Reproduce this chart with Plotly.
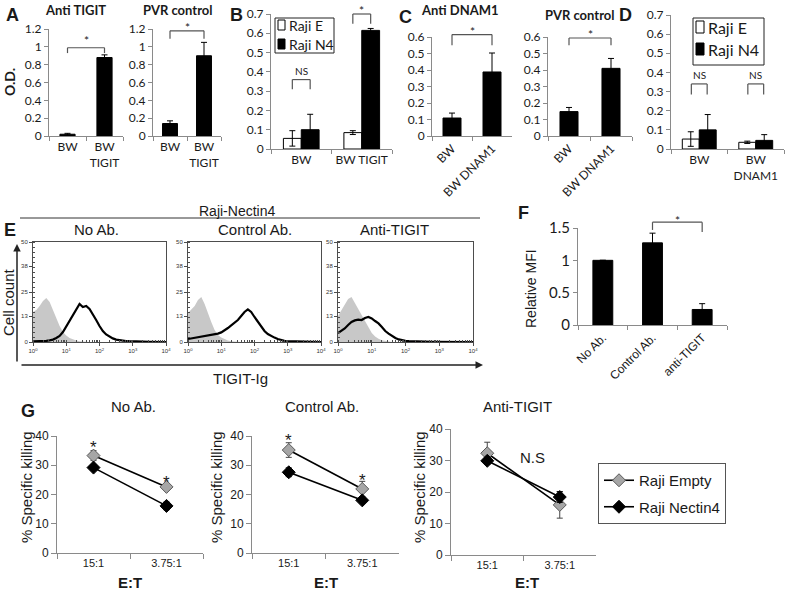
import plotly.graph_objects as go

W, H = 787, 590

# ---------- data ----------
# A  O.D.
a_cats = ["BW", "BW<br>TIGIT"]
a_anti_tigit = [0.02, 0.88]
a_anti_tigit_err = [0.01, 0.03]
a_pvr = [0.14, 0.90]
a_pvr_err = [0.03, 0.15]

# B
b_cats = ["BW", "BW TIGIT"]
b_raji_e = [0.055, 0.085]
b_raji_e_err = [0.04, 0.01]
b_raji_n4 = [0.10, 0.615]
b_raji_n4_err = [0.08, 0.01]

# C
c_cats = ["BW", "BW DNAM1"]
c_anti_dnam1 = [0.109, 0.388]
c_anti_dnam1_err = [0.03, 0.115]
c_pvr = [0.148, 0.41]
c_pvr_err = [0.025, 0.06]

# D
d_cats = ["BW", "BW<br>DNAM1"]
d_raji_e = [0.052, 0.035]
d_raji_e_err = [0.038, 0.006]
d_raji_n4 = [0.10, 0.045]
d_raji_n4_err = [0.08, 0.03]

# E  histograms, x in decades of TIGIT-Ig intensity, y = cell count
hist_decades = [0.0, 0.1, 0.2, 0.3, 0.4, 0.5, 0.6, 0.7, 0.8, 0.9, 1.0, 1.1, 1.2,
                1.3, 1.4, 1.5, 1.6, 1.7, 1.8, 1.9, 2.0, 2.1, 2.2, 2.3, 2.4, 2.5,
                2.6, 2.7, 2.8, 2.9, 3.0, 3.5, 4.0]
noab_background = [15, 16, 18, 20.5, 22, 20, 16, 12, 8, 5, 3.2, 2, 1.2, 0.7, 0.4,
                   0.2, 0, 0, 0, 0, 0, 0, 0, 0, 0, 0, 0, 0, 0, 0, 0, 0, 0]
noab_tigit = [0.3, 0.3, 0.4, 0.5, 0.6, 0.8, 1.2, 2, 3, 5, 7.8, 11, 14, 16.8, 19,
              17.5, 18, 16.5, 14, 11, 8, 5.5, 3.8, 2.6, 1.8, 1.2, 0.9, 0.7, 0.5,
              0.4, 0.3, 0.1, 0]
ctrl_background = [14.5, 16, 18, 21, 22.5, 19, 14, 10, 6, 3.5, 2.2, 1.3, 0.8, 0.4,
                   0.2, 0, 0, 0, 0, 0, 0, 0, 0, 0, 0, 0, 0, 0, 0, 0, 0, 0, 0]
ctrl_tigit = [1.5, 1.8, 2, 2.3, 2.6, 2.8, 3.0, 3.3, 3.8, 4.2, 4.8, 5.8, 7, 8.3, 9.5,
              11, 13, 15, 16.3, 15, 12.5, 10, 7.5, 5.5, 4, 3, 2.2, 1.5, 1, 0.6,
              0.4, 0.1, 0]
anti_background = [13, 16, 19, 21.5, 22.5, 19.5, 16, 13, 10, 7, 4.5, 2.8, 1.6, 0.9,
                   0.5, 0.2, 0, 0, 0, 0, 0, 0, 0, 0, 0, 0, 0, 0, 0, 0, 0, 0, 0]
anti_tigit = [4.5, 5.5, 6.8, 8.5, 10, 10.8, 11.2, 11, 12, 12.5, 11.8, 10.5, 9.3, 7.5,
              5.5, 4.2, 3, 2, 1.3, 0.8, 0.6, 0.5, 0.4, 0.3, 0.25, 0.2, 0.2, 0.15,
              0.1, 0.1, 0.1, 0.05, 0]
hist_xticks = ["10<sup>0</sup>", "10<sup>1</sup>", "10<sup>2</sup>", "10<sup>3</sup>", "10<sup>4</sup>"]
hist_yticks = [0, 13, 25, 38, 50]

# F
f_cats = ["No Ab.", "Control Ab.", "anti-TIGIT"]
f_mfi = [1.0, 1.27, 0.24]
f_mfi_err = [0.0, 0.15, 0.09]

# G  % specific killing
g_cats = ["15:1", "3.75:1"]
g_noab_empty = [33.3, 22.6]
g_noab_empty_err = [1.7, 0.8]
g_noab_n4 = [29.2, 16.1]
g_noab_n4_err = [1.0, 1.3]
g_ctrl_empty = [35.2, 21.9]
g_ctrl_empty_err = [2.5, 2.6]
g_ctrl_n4 = [27.6, 18.0]
g_ctrl_n4_err = [1.5, 0.8]
g_anti_empty = [32.3, 15.9]
g_anti_empty_err = [3.5, 4.2]
g_anti_n4 = [29.9, 18.4]
g_anti_n4_err = [1.0, 1.7]

# ---------- styling ----------
ARIAL = "Liberation Sans, Arial, sans-serif"
CALIBRI = "Lato, Carlito, Calibri, sans-serif"
AXIS_GRAY = "#8a8a8a"
TXT = "#1a1a1a"

fig = go.Figure()


def refs(n):
    s = "" if n == 1 else str(n)
    return "x" + s, "y" + s, "xaxis" + s, "yaxis" + s


def px_x(x0, x1):
    return [x0 / W, x1 / W]


def px_y(top, bottom):
    return [1 - bottom / H, 1 - top / H]


def cat_axes(n, ncat, xpx, ypx, yrange, dtick, tickangle=0, xsize=12, ysize=12,
             xfont=CALIBRI, yfont=CALIBRI, ticklen=4):
    xr, yr, xk, yk = refs(n)
    common = dict(showline=True, linecolor=AXIS_GRAY, linewidth=1, ticks="outside",
                  tickcolor=AXIS_GRAY, ticklen=ticklen, showgrid=False,
                  zeroline=False, fixedrange=True)
    fig.update_layout(**{
        xk: dict(domain=px_x(*xpx), anchor=yr, type="category", tickson="boundaries",
                 range=[-0.5, ncat - 0.5], tickangle=tickangle,
                 tickfont=dict(family=xfont, size=xsize, color=TXT), **common),
        yk: dict(domain=px_y(*ypx), anchor=xr, range=yrange, dtick=dtick,
                 tickfont=dict(family=yfont, size=ysize, color=TXT), **common),
    })


def bar(n, cats, vals, err, fill, width, offset, name=None):
    xr, yr, _, _ = refs(n)
    fig.add_trace(go.Bar(
        x=cats, y=vals, width=width, offset=offset, name=name,
        marker=dict(color=fill, line=dict(color="black", width=1)),
        error_y=dict(type="data", array=err, color="black", thickness=1, width=3),
        xaxis=xr, yaxis=yr, showlegend=False,
    ))


def bracket(n, x0, x1, top, leg0, leg1, ymax, label, label_y, size=12, color="#555"):
    xr, yr, _, _ = refs(n)
    yd = yr + " domain"
    for a, b, c, d in [(x0, leg0, x0, top), (x0, top, x1, top), (x1, top, x1, leg1)]:
        fig.add_shape(type="line", xref=xr, yref=yd, x0=a, y0=b / ymax, x1=c, y1=d / ymax,
                      line=dict(color=color, width=1.2))
    fig.add_annotation(xref=xr, yref=yd, x=(x0 + x1) / 2, y=label_y / ymax, text=label,
                       showarrow=False, xanchor="center", yanchor="middle",
                       yshift=-3 if label == "*" else 0,
                       font=dict(family=CALIBRI, size=size, color=TXT))


def text(x, y, s, size=14, bold=False, family=ARIAL, angle=0, anchor="center"):
    fig.add_annotation(xref="paper", yref="paper", x=x / W, y=1 - y / H,
                       text="<b>%s</b>" % s if bold else s, showarrow=False,
                       xanchor=anchor, yanchor="middle",
                       textangle=angle, font=dict(family=family, size=size, color=TXT))


def box_legend(x0, y0, x1, y1, rows, sq, size):
    # framed legend: (label, fill, row centre y) with a square swatch
    fig.add_shape(type="rect", xref="paper", yref="paper", x0=x0 / W, x1=x1 / W,
                  y0=1 - y1 / H, y1=1 - y0 / H, line=dict(color="#222", width=1),
                  fillcolor="white")
    for label, fill, ry in rows:
        fig.add_shape(type="rect", xref="paper", yref="paper",
                      x0=(x0 + 3) / W, x1=(x0 + 3 + sq[0]) / W,
                      y0=1 - (ry + sq[1] / 2) / H, y1=1 - (ry - sq[1] / 2) / H,
                      line=dict(color="black", width=1), fillcolor=fill)
        text(x0 + 5 + sq[0], ry, label, size, family=CALIBRI, anchor="left")


# ---------- A ----------
cat_axes(1, 2, (49, 123), (29, 136), [0, 1.2], 0.2)
bar(1, a_cats, a_anti_tigit, a_anti_tigit_err, "black", 0.41, -0.205)
bracket(1, 0, 1, 0.99, 0.93, 0.93, 1.2, "*", 1.10)
cat_axes(2, 2, (153, 221), (29, 136), [0, 1.2], 0.2)
bar(2, a_cats, a_pvr, a_pvr_err, "black", 0.44, -0.22)
bracket(2, 0, 1, 1.18, 1.09, 1.09, 1.2, "*", 1.245)

# ---------- B ----------
cat_axes(3, 2, (271, 392), (14, 149), [0, 0.7], 0.1)
bar(3, b_cats, b_raji_e, b_raji_e_err, "white", 0.295, -0.295, "Raji E")
bar(3, b_cats, b_raji_n4, b_raji_n4_err, "black", 0.295, 0, "Raji N4")
bracket(3, -0.1475, 0.1475, 0.36, 0.31, 0.31, 0.7, "NS", 0.405, size=10)
bracket(3, 0.8525, 1.1475, 0.70, 0.65, 0.65, 0.7, "*", 0.735)
box_legend(275, 18, 334, 53, [("Raji E", "white", 25), ("Raji N4", "black", 44)],
           (7, 10), 14)

# ---------- C ----------
cat_axes(4, 2, (432, 512), (37, 136), [0, 0.6], 0.1, tickangle=-45)
bar(4, c_cats, c_anti_dnam1, c_anti_dnam1_err, "black", 0.45, -0.225)
bracket(4, 0, 1, 0.615, 0.55, 0.55, 0.6, "*", 0.65)
cat_axes(5, 2, (548, 632), (37, 136), [0, 0.6], 0.1, tickangle=-45)
bar(5, c_cats, c_pvr, c_pvr_err, "black", 0.43, -0.215)
bracket(5, 0, 1, 0.594, 0.55, 0.55, 0.6, "*", 0.635)

# ---------- D ----------
cat_axes(6, 2, (671, 784), (15, 149), [0, 0.7], 0.1)
bar(6, d_cats, d_raji_e, d_raji_e_err, "white", 0.30, -0.30, "Raji E")
bar(6, d_cats, d_raji_n4, d_raji_n4_err, "black", 0.30, 0, "Raji N4")
bracket(6, -0.14, 0.14, 0.34, 0.285, 0.285, 0.7, "NS", 0.385, size=10)
bracket(6, 0.86, 1.14, 0.34, 0.285, 0.285, 0.7, "NS", 0.385, size=10)
box_legend(693, 18, 764, 65, [("Raji E", "white", 27), ("Raji N4", "black", 49)],
           (8, 12), 16)

# ---------- E ----------
hist_x = [10 ** d for d in hist_decades]
for n, xpx, bg, fg in [(7, (33, 166), noab_background, noab_tigit),
                       (8, (188, 321), ctrl_background, ctrl_tigit),
                       (9, (338, 473), anti_background, anti_tigit)]:
    xr, yr, xk, yk = refs(n)
    frame = dict(showline=True, mirror=True, linecolor="#4d4d4d", linewidth=1,
                 showgrid=False, zeroline=False, fixedrange=True, ticks="outside",
                 ticklen=3, tickcolor="#4d4d4d",
                 tickfont=dict(family=ARIAL, size=6, color="#333"))
    fig.update_layout(**{
        xk: dict(domain=px_x(*xpx), anchor=yr, type="log", range=[0, 4],
                 tickvals=[1, 10, 100, 1000, 10000], ticktext=hist_xticks,
                 minor=dict(ticks="inside", ticklen=2, tickcolor="#4d4d4d", dtick="D1"),
                 **frame),
        yk: dict(domain=px_y(242, 342), anchor=xr, range=[0, 50], tickvals=hist_yticks,
                 minor=dict(ticks="inside", ticklen=2, tickcolor="#4d4d4d", dtick=2.5),
                 **frame),
    })
    fig.add_trace(go.Scatter(x=hist_x, y=bg, mode="lines", fill="tozeroy",
                             fillcolor="#c8c8c8", line=dict(width=0, color="#c8c8c8"),
                             xaxis=xr, yaxis=yr, showlegend=False))
    fig.add_trace(go.Scatter(x=hist_x, y=fg, mode="lines",
                             line=dict(width=2.2, color="black"),
                             xaxis=xr, yaxis=yr, showlegend=False))

# ---------- F ----------
cat_axes(10, 3, (578, 727), (228, 325), [0, 1.5], 0.5, tickangle=-45, xsize=12,
         ysize=15, xfont=ARIAL)
bar(10, f_cats, f_mfi, f_mfi_err, "black", 0.40, -0.20)
bracket(10, 1, 2, 1.59, 1.47, 1.44, 1.5, "*", 1.66)

# ---------- G ----------
g_sets = [(11, (57, 203), (436, 553), g_noab_empty, g_noab_empty_err, g_noab_n4, g_noab_n4_err),
          (12, (252, 399), (436, 553), g_ctrl_empty, g_ctrl_empty_err, g_ctrl_n4, g_ctrl_n4_err),
          (13, (451, 596), (429, 555), g_anti_empty, g_anti_empty_err, g_anti_n4, g_anti_n4_err)]
for n, xpx, ypx, emp, emp_err, n4, n4_err in g_sets:
    cat_axes(n, 2, xpx, ypx, [0, 40], 10, xsize=11, ysize=12, xfont=ARIAL, yfont=ARIAL,
             ticklen=5)
    xr, yr, _, _ = refs(n)
    first = n == 11
    fig.add_trace(go.Scatter(
        x=g_cats, y=emp, name="Raji Empty", mode="lines+markers",
        line=dict(color="black", width=1.6),
        marker=dict(symbol="diamond", size=10, color="#a6a6a6",
                    line=dict(color="#595959", width=1)),
        error_y=dict(type="data", array=emp_err, color="#444", thickness=1, width=3),
        xaxis=xr, yaxis=yr, showlegend=first, legendgroup="e"))
    fig.add_trace(go.Scatter(
        x=g_cats, y=n4, name="Raji Nectin4", mode="lines+markers",
        line=dict(color="black", width=1.6),
        marker=dict(symbol="diamond", size=10, color="black",
                    line=dict(color="black", width=1)),
        error_y=dict(type="data", array=n4_err, color="black", thickness=1, width=3),
        xaxis=xr, yaxis=yr, showlegend=first, legendgroup="n"))

for n, stars in [(11, [(0.25, 37.3), (0.75, 25.3)]), (12, [(0.25, 40.0), (0.75, 26.1)])]:
    xr, yr, _, _ = refs(n)
    for sx, sy in stars:
        fig.add_annotation(xref=xr + " domain", yref=yr + " domain", x=sx, y=sy / 40,
                           text="*", showarrow=False, xanchor="center",
                           yanchor="middle", yshift=-4,
                           font=dict(family=ARIAL, size=17, color=TXT))
fig.add_annotation(xref="x13 domain", yref="y13 domain", x=0.56, y=30.9 / 40, text="N.S",
                   showarrow=False, xanchor="center", yanchor="middle",
                   font=dict(family=ARIAL, size=15, color=TXT))

# ---------- labels ----------
text(12, 15, "A", 18, True)
text(75, 10, "Anti TIGIT", 13, True, CALIBRI)
text(178, 10, "PVR control", 13, True, CALIBRI)
text(9, 82, "O.D.", 14, True, CALIBRI, -90)
text(236, 15, "B", 18, True)
text(405, 17, "C", 18, True)
text(460, 10, "Anti DNAM1", 13, True, CALIBRI)
text(580, 15, "PVR control", 13, True, CALIBRI)
text(625, 15, "D", 18, True)

text(10, 230, "E", 18, True)
text(237, 211, "Raji-Nectin4", 14)
text(96, 229, "No Ab.", 15)
text(255, 229, "Control Ab.", 15)
text(395, 229, "Anti-TIGIT", 15)
text(8, 302, "Cell count", 15, angle=-90)
text(240, 378, "TIGIT-Ig", 15)
fig.add_shape(type="line", xref="paper", yref="paper", x0=20 / W, x1=480 / W,
              y0=1 - 218 / H, y1=1 - 218 / H, line=dict(color="#333", width=1))
fig.add_annotation(xref="paper", yref="paper", x=17 / W, y=1 - 244 / H, ax=0, ay=119,
                   showarrow=True, arrowhead=2, arrowsize=1, arrowwidth=1.5,
                   arrowcolor="#222", text="")
fig.add_annotation(xref="paper", yref="paper", x=483 / W, y=1 - 365 / H, ax=-463, ay=0,
                   showarrow=True, arrowhead=2, arrowsize=1, arrowwidth=1.5,
                   arrowcolor="#222", text="")

text(523, 213, "F", 18, True)
text(531, 289, "Relative MFI", 14, angle=-90)

text(28, 411, "G", 18, True)
text(133, 406, "No Ab.", 15)
text(322, 406, "Control Ab.", 15)
text(517, 406, "Anti-TIGIT", 15)
for gx, tx in [(26, 130), (216, 326), (419, 527)]:
    text(gx, 487, "% Specific killing", 15, angle=-90)
    text(tx, 582, "E:T", 15, True)

fig.update_layout(
    width=W, height=H, margin=dict(l=0, r=0, t=0, b=0, autoexpand=False),
    paper_bgcolor="white", plot_bgcolor="white",
    barmode="overlay", showlegend=True,
    legend=dict(x=598 / W, y=1 - 463 / H, xanchor="left", yanchor="top",
                bgcolor="white", bordercolor="#555", borderwidth=1,
                font=dict(family=ARIAL, size=15, color=TXT), tracegroupgap=4,
                traceorder="grouped"),
)

# the page's default body margin would push the 787x590 figure off the window
fig.write_html("out.html", config={"displayModeBar": False},
               post_script="document.body.style.margin = '0';")
